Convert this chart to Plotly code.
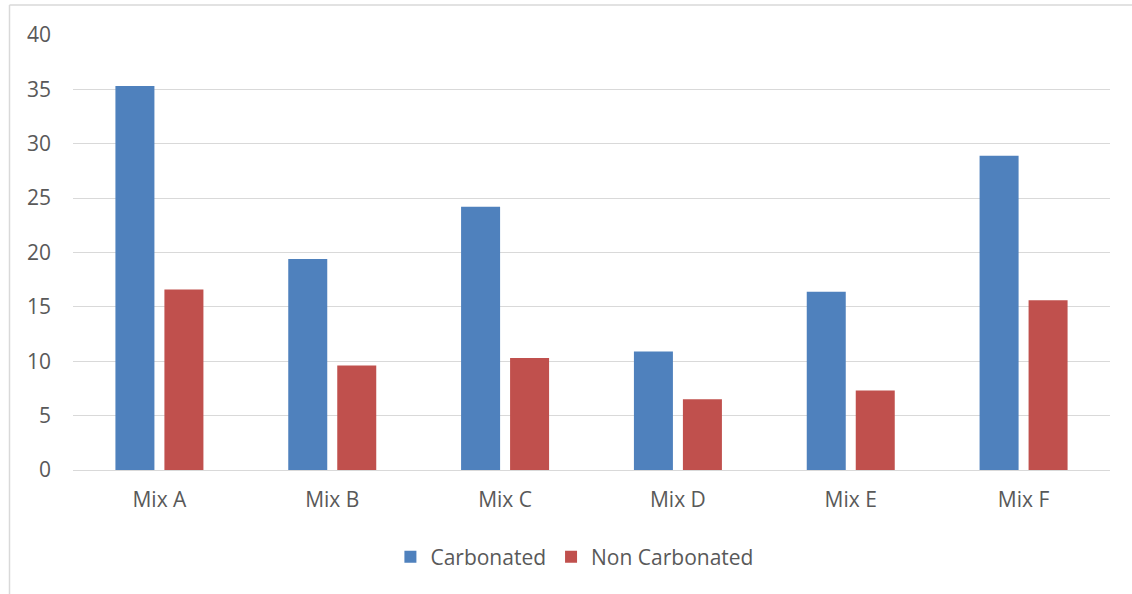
import plotly.graph_objects as go

categories = ["Mix A", "Mix B", "Mix C", "Mix D", "Mix E", "Mix F"]
carbonated = [35.3, 19.4, 24.2, 10.9, 16.4, 28.9]
non_carbonated = [16.6, 9.6, 10.3, 6.5, 7.3, 15.6]
y_ticks = [0, 5, 10, 15, 20, 25, 30, 35, 40]

W, H = 1132, 594
ML, MR, MT, MB = 73, 22, 35, 124
PW, PH = W - ML - MR, H - MT - MB

font = dict(family="Open Sans, Noto Sans, sans-serif", size=21, color="#595959")

fig = go.Figure()
fig.add_trace(go.Bar(x=categories, y=carbonated, name="Carbonated",
                     marker=dict(color="#4F81BD", line=dict(width=0))))
fig.add_trace(go.Bar(x=categories, y=non_carbonated, name="Non Carbonated",
                     marker=dict(color="#C0504D", line=dict(width=0))))

fig.update_layout(
    width=W, height=H,
    margin=dict(l=ML, r=MR, t=MT, b=MB),
    paper_bgcolor="white", plot_bgcolor="white",
    barmode="group", bargap=0.433, bargroupgap=0.204,
    font=font,
    legend=dict(orientation="h", x=0.484, xanchor="center", y=-0.2, yanchor="middle",
                font=dict(size=21, color="#595959"), itemwidth=30,
                traceorder="normal"),
    showlegend=True,
)
fig.update_yaxes(range=[0, 40], tickvals=y_ticks, showgrid=True, gridcolor="#D9D9D9",
                 gridwidth=1, zeroline=False, showline=False, ticklabelstandoff=21,
                 tickfont=dict(size=21, color="#595959"), fixedrange=True)
fig.update_xaxes(showline=True, linecolor="#D9D9D9", linewidth=1, ticklabelstandoff=11,
                 tickfont=dict(size=21, color="#595959"), fixedrange=True)

# chart frame (left and top border)
fig.add_shape(type="line", xref="paper", yref="paper",
              x0=(9.5 - ML) / PW, x1=(9.5 - ML) / PW, y0=(MT + PH - H) / PH, y1=(MT + PH - 5) / PH,
              line=dict(color="#D9D9D9", width=1.5))
fig.add_shape(type="line", xref="paper", yref="paper",
              x0=(9.5 - ML) / PW, x1=(W - ML) / PW, y0=(MT + PH - 5) / PH, y1=(MT + PH - 5) / PH,
              line=dict(color="#D9D9D9", width=1.5))

fig.write_html("out.html", config={"displayModeBar": False},
               post_script="document.body.style.margin='0';document.body.style.overflow='hidden';")
